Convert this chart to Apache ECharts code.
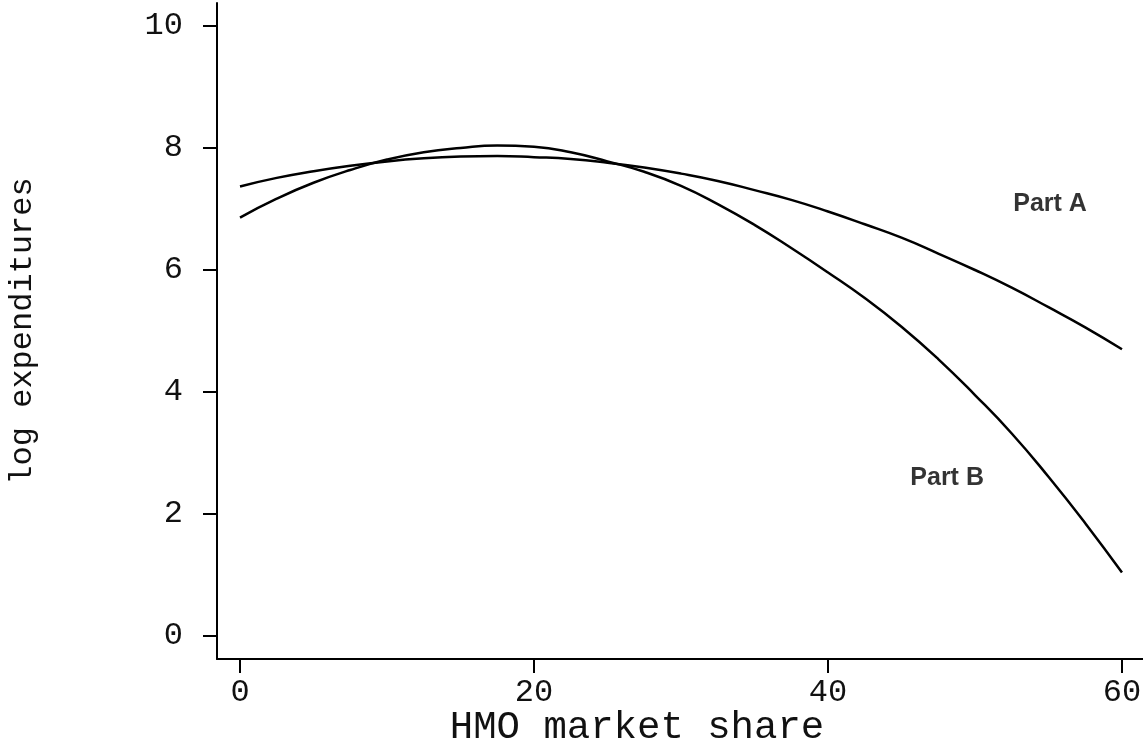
<!DOCTYPE html>
<html>
<head>
<meta charset="utf-8">
<script src="https://cdn.jsdelivr.net/npm/echarts@6/dist/echarts.min.js"></script>
<style>
html,body{margin:0;padding:0;background:#fff;}
#chart{width:1143px;height:746px;}
</style>
</head>
<body>
<div id="chart"></div>
<script>
// HMO market share (x) sample points
const marketShare = [0, 2.5, 5, 7.5, 10, 12.5, 15, 17.5, 20, 22.5, 25, 27.5, 30, 32.5, 35, 37.5, 40, 42.5, 45, 47.5, 50, 52.5, 55, 57.5, 60];
// log expenditures
const partA = [7.37, 7.51, 7.62, 7.71, 7.78, 7.83, 7.86, 7.87, 7.85, 7.82, 7.76, 7.68, 7.58, 7.46, 7.31, 7.15, 6.96, 6.75, 6.53, 6.27, 6.00, 5.71, 5.39, 5.06, 4.70];
const partB = [6.86, 7.17, 7.43, 7.64, 7.81, 7.93, 8.00, 8.04, 8.02, 7.93, 7.78, 7.61, 7.38, 7.08, 6.74, 6.36, 5.96, 5.54, 5.07, 4.54, 3.95, 3.32, 2.61, 1.85, 1.04];
// tick values
const xTicks = [0, 20, 40, 60];
const yTicks = [0, 2, 4, 6, 8, 10];
// curve annotations
const annotations = [
  {name: 'Part A', x: 52.6, y: 7.08},
  {name: 'Part B', x: 45.6, y: 2.59}
];

const tickFont = 'Liberation Mono';
const chart = echarts.init(document.getElementById('chart'));
const zip = (xs, ys) => xs.map((x, i) => [x, ys[i]]);

chart.setOption({
  animation: false,
  backgroundColor: '#ffffff',
  grid: {left: 217, right: 0, top: 3, bottom: 87, containLabel: false, outerBoundsMode: 'none'},
  xAxis: {
    type: 'value',
    min: -1.565, max: 61.43,
    name: 'HMO market share',
    nameLocation: 'middle',
    nameGap: 49,
    nameMoveOverlap: false,
    nameTextStyle: {fontFamily: tickFont, fontSize: 39, color: '#111', padding: [0, 86, 0, 0]},
    axisLine: {show: true, onZero: false, lineStyle: {color: '#000', width: 2}},
    axisTick: {show: true, length: 14, customValues: xTicks, lineStyle: {color: '#000', width: 2}},
    axisLabel: {customValues: xTicks, fontFamily: tickFont, fontSize: 32, color: '#111', margin: 18},
    splitLine: {show: false}
  },
  yAxis: {
    type: 'value',
    min: -0.377, max: 10.377,
    name: 'log expenditures',
    nameLocation: 'middle',
    nameGap: 178,
    nameRotate: 90,
    nameMoveOverlap: false,
    nameTextStyle: {fontFamily: tickFont, fontSize: 32, color: '#111'},
    axisLine: {show: true, onZero: false, lineStyle: {color: '#000', width: 2}},
    axisTick: {show: true, length: 14, customValues: yTicks, lineStyle: {color: '#000', width: 2}},
    axisLabel: {customValues: yTicks, fontFamily: tickFont, fontSize: 32, color: '#111', margin: 34},
    splitLine: {show: false}
  },
  series: [
    {
      name: 'Part A', type: 'line', smooth: true, showSymbol: false,
      data: zip(marketShare, partA),
      lineStyle: {color: '#000', width: 2.5}
    },
    {
      name: 'Part B', type: 'line', smooth: true, showSymbol: false,
      data: zip(marketShare, partB),
      lineStyle: {color: '#000', width: 2.5}
    },
    {
      name: 'labels', type: 'scatter', symbolSize: 0,
      data: annotations.map(a => ({name: a.name, value: [a.x, a.y]})),
      label: {
        show: true, position: 'right', distance: 0,
        formatter: p => p.name,
        fontFamily: 'Liberation Sans', fontSize: 25, fontWeight: 'bold', color: '#000'
      },
      silent: true
    }
  ]
});
</script>
</body>
</html>
